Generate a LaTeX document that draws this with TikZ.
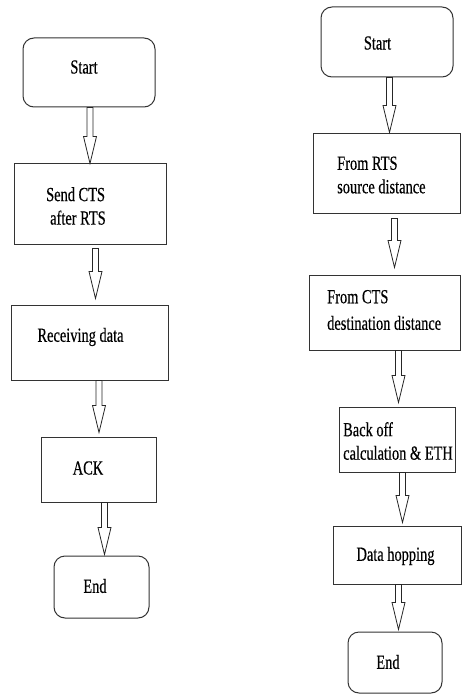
\documentclass[tikz,border=0pt]{standalone}
\usepackage{fontspec}
\setmainfont[FakeStretch=0.72,FakeBold=0.4]{Liberation Serif}
\newcommand{\blkarrow}[5]{%
  \path (#1.south -| #3,0) ++(0,#4) coordinate (bs);
  \path (#2.north -| #3,0) ++(0,-#5) coordinate (bt);
  \draw[blk] ([xshift=-3pt]bs) -- ([shift={(-3,-27)}]bt) -- ([shift={(-6.5,-27)}]bt) -- (bt)
    -- ([shift={(6.5,-27)}]bt) -- ([shift={(3,-27)}]bt) -- ([xshift=3pt]bs) -- cycle;}
\begin{document}
\begin{tikzpicture}[x=1pt,y=-1pt,
  box/.style={draw=black!80, line width=1pt, rectangle, inner sep=0pt},
  term/.style={box, rounded corners=11pt},
  txt/.style={font=\fontsize{20}{23.5}\selectfont, inner sep=0pt, align=left},
  blk/.style={draw=black!85, line width=0.8pt, fill=white, line join=miter}]
\useasboundingbox (0,0) rectangle (461,695);

% left column
\node[term, minimum width=132pt, minimum height=69pt] (ls) at (89,72.5) {};
\node[txt] (lst) at (84,67) {Start};
\node[box, minimum width=152pt, minimum height=80pt] (l2) at (90,204) {};
\node[txt, anchor=west] (l2t) at (46,206) {Send CTS\\\hspace*{4pt}after RTS};
\node[box, minimum width=157pt, minimum height=75pt] (l3) at (89.5,342.5) {};
\node[txt] (l3t) at (80.5,337) {Receiving data};
\node[box, minimum width=115pt, minimum height=65pt] (l4) at (98.5,469.5) {};
\node[txt] (l4t) at (88,468) {ACK};
\node[term, minimum width=95pt, minimum height=62pt] (l5) at (101.5,587) {};
\node[txt] (l5t) at (95,586) {End};

\blkarrow{ls}{l2}{90}{0}{0}
\blkarrow{l2}{l3}{95.5}{4}{6}
\blkarrow{l3}{l4}{99}{0}{4}
\blkarrow{l4}{l5}{104.5}{0}{1}

% right column
\node[term, minimum width=132pt, minimum height=70pt] (rs) at (387,42) {};
\node[txt] (rst) at (377.5,43) {Start};
\node[box, minimum width=147pt, minimum height=79pt] (r2) at (386.5,173.5) {};
\node[txt, anchor=west] (r2t) at (337,175) {From RTS\\source distance};
\node[box, minimum width=151pt, minimum height=75pt] (r3) at (384.5,312.5) {};
\node[txt, anchor=west] (r3t) at (327,310) {From CTS\\[3pt]destination distance};
\node[box, minimum width=116pt, minimum height=65pt] (r4) at (397,439.5) {};
\node[txt, anchor=west] (r4t) at (343,441) {Back off\\calculation \& ETH};
\node[box, minimum width=128pt, minimum height=58pt] (r5) at (397,555) {};
\node[txt] (r5t) at (395.5,556) {Data hopping};
\node[term, minimum width=94pt, minimum height=61pt] (r6) at (395,662.5) {};
\node[txt] (r6t) at (388,662) {End};

\blkarrow{rs}{r2}{389.5}{0}{1}
\blkarrow{r2}{r3}{394.5}{5}{7}
\blkarrow{r3}{r4}{398.5}{0}{4}
\blkarrow{r4}{r5}{402.5}{0}{3}
\blkarrow{r5}{r6}{398.5}{0}{2}
\end{tikzpicture}
\end{document}
